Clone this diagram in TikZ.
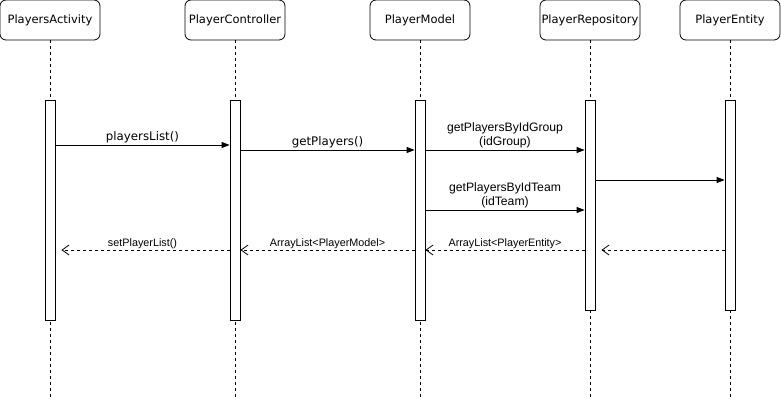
\documentclass[tikz,border=0pt]{standalone}
\usepackage{fontspec}
\setmainfont{DejaVu Sans}
\newfontfamily\msgfont{Liberation Sans}
\usetikzlibrary{arrows.meta}

\tikzset{
  head/.style={draw,rounded corners=6pt,minimum width=100pt,minimum height=40pt,
    inner sep=0pt,font=\fontsize{11.5}{13}\selectfont},
  life/.style={dash pattern=on 3pt off 3pt},
  bar/.style={draw,fill=white,minimum width=10pt,inner sep=0pt},
  call/.style={-{Triangle[length=8pt,width=6pt]}},
  reply/.style={dash pattern=on 3pt off 3pt,-{Straight Barb[length=7pt,width=10pt]}},
  biglab/.style={font=\fontsize{11.8}{13}\selectfont,above,inner sep=1.5pt},
  midlab/.style={font=\msgfont\fontsize{12.2}{14}\selectfont,above,align=center,inner sep=2pt},
  retlab/.style={font=\msgfont\fontsize{10.8}{12}\selectfont,above,inner sep=1pt}
}

\begin{document}
\begin{tikzpicture}[x=1pt,y=-1pt,line width=0.8pt]
  \useasboundingbox (0,0) rectangle (781,401);
  % objects
  \foreach \n/\x/\t in {act/50/PlayersActivity, ctrl/235/PlayerController,
      model/420/PlayerModel, repo/590/PlayerRepository, ent/730/PlayerEntity}
    \node[head] (\n) at (\x,20) {\t};
  \foreach \n in {act,ctrl,model,repo,ent}
    \draw[life] (\n.south) -- (\n.south |- 0,400);
  % activations
  \foreach \n/\b in {act/320,ctrl/320,model/320,repo/310,ent/310}
    \node[bar,minimum height={\b-100},anchor=north] (\n-bar) at (\n.south |- 0,100) {};
  % message rows
  \coordinate (r1) at (0,145);
  \coordinate (r2) at (0,150);
  \coordinate (r3) at (0,180);
  \coordinate (r4) at (0,210);
  \coordinate (r5) at (0,250);
  \draw[call] (act-bar.east |- r1) -- (ctrl-bar.west |- r1)
    node[biglab,midway] {playersList()};
  \draw[call] (ctrl-bar.east |- r2) -- (model-bar.west |- r2)
    node[biglab,midway] {getPlayers()};
  \draw[call] (model-bar.east |- r2) -- (repo-bar.west |- r2)
    node[midlab,midway] {getPlayersByIdGroup\\(idGroup)};
  \draw[call] (repo-bar.east |- r3) -- (ent-bar.west |- r3);
  \draw[call] (model-bar.east |- r4) -- (repo-bar.west |- r4)
    node[midlab,midway] {getPlayersByIdTeam\\(idTeam)};
  % replies
  \draw[reply,shorten >=6pt] (ent-bar.west |- r5) -- (repo-bar.east |- r5);
  \draw[reply] (repo-bar.west |- r5) -- (model-bar.east |- r5)
    node[retlab,midway] {ArrayList<PlayerEntity>};
  \draw[reply] (model-bar.west |- r5) -- (ctrl-bar.east |- r5)
    node[retlab,midway] {ArrayList<PlayerModel>};
  \draw[reply,shorten >=6pt] (ctrl-bar.west |- r5) -- (act-bar.east |- r5)
    node[retlab,midway] {setPlayerList()};
\end{tikzpicture}
\end{document}
